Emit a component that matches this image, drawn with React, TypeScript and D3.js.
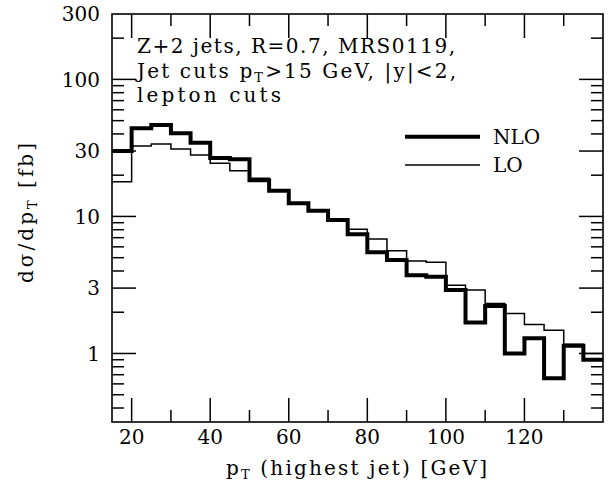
import React from "react";
import * as d3 from "d3";

// ---- data ----
const binLow = [15, 20, 25, 30, 35, 40, 45, 50, 55, 60, 65, 70, 75, 80, 85, 90, 95, 100, 105, 110, 115, 120, 125, 130, 135];
const binWidth = 5;
const nlo = [30, 44, 46.5, 40.5, 34.5, 26.7, 26.1, 18.4, 15.4, 12.5, 11.0, 9.4, 7.4, 5.47, 4.8, 3.73, 3.63, 2.9, 1.68, 2.22, 1.0, 1.29, 0.66, 1.14, 0.9];
const lo = [17.9, 32.7, 33.8, 31, 28.1, 24.4, 21.5, 19, 15.5, 12.6, 11.1, 9.6, 8.05, 6.85, 5.62, 4.72, 4.64, 3.15, 2.9, 2.32, 1.96, 1.63, 1.48, 1.17, 1.0];

const xMajorTicks = [20, 40, 60, 80, 100, 120];
const xMinorTicks = [30, 50, 70, 90, 110, 130];
const yMajorTicks = [1, 3, 10, 30, 100];
const yMinorTicks = [0.4, 0.5, 0.6, 0.7, 0.8, 0.9, 2, 4, 5, 6, 7, 8, 9, 20, 40, 50, 60, 70, 80, 90, 200];
const yLabels = [1, 3, 10, 30, 100, 300];

const annotation = ["Z+2 jets, R=0.7, MRS0119,", "Jet cuts p", "T", ">15 GeV, |y|<2,", "lepton cuts"];
const legendItems = ["NLO", "LO"];

const W = 611;
const H = 487;
const L = 112, R = 603, T = 14, B = 422;
const FONT = "'DejaVu Serif', serif";

export default function App() {
  const x = d3.scaleLinear().domain([15, 140]).range([L, R]);
  const y = d3.scaleLog().domain([Math.pow(10, -0.5), 300]).range([B, T]);

  const stepLine = (vals: number[]) => {
    const pts: [number, number][] = binLow.map((b, i) => [b, vals[i]]);
    pts.push([binLow[binLow.length - 1] + binWidth, vals[vals.length - 1]]);
    return d3
      .line<[number, number]>()
      .x((d) => x(d[0]))
      .y((d) => y(d[1]))
      .curve(d3.curveStepAfter)(pts) as string;
  };

  const major = 24;
  const minor = 12;
  const tickStroke = 1.5;

  return (
    <svg
      width={W}
      height={H}
      style={{ position: "absolute", left: 0, top: 0, background: "#fff" }}
      fontFamily={FONT}
    >
      <rect x={0} y={0} width={W} height={H} fill="#fff" />
      <defs>
        <clipPath id="plot">
          <rect x={L} y={T} width={R - L} height={B - T} />
        </clipPath>
      </defs>

      {/* histograms */}
      <g clipPath="url(#plot)" fill="none" strokeLinejoin="miter">
        <path d={stepLine(lo)} stroke="#000" strokeWidth={1.5} />
        <path d={stepLine(nlo)} stroke="#000" strokeWidth={4} />
      </g>

      {/* frame */}
      <rect x={L} y={T} width={R - L} height={B - T} fill="none" stroke="#000" strokeWidth={1.6} />

      {/* x ticks bottom & top */}
      <g stroke="#000" strokeWidth={tickStroke}>
        {xMajorTicks.map((t) => (
          <g key={"xM" + t}>
            <line x1={x(t)} x2={x(t)} y1={B} y2={B - major} />
            <line x1={x(t)} x2={x(t)} y1={T} y2={T + major} />
          </g>
        ))}
        {xMinorTicks.map((t) => (
          <g key={"xm" + t}>
            <line x1={x(t)} x2={x(t)} y1={B} y2={B - minor} />
            <line x1={x(t)} x2={x(t)} y1={T} y2={T + minor} />
          </g>
        ))}
        {yMajorTicks.map((t) => (
          <g key={"yM" + t}>
            <line x1={L} x2={L + major} y1={y(t)} y2={y(t)} />
            <line x1={R} x2={R - major} y1={y(t)} y2={y(t)} />
          </g>
        ))}
        {yMinorTicks.map((t) => (
          <g key={"ym" + t}>
            <line x1={L} x2={L + minor} y1={y(t)} y2={y(t)} />
            <line x1={R} x2={R - minor} y1={y(t)} y2={y(t)} />
          </g>
        ))}
      </g>

      {/* tick labels */}
      <g fontSize={20} fill="#000">
        {xMajorTicks.map((t) => (
          <text key={"xl" + t} x={x(t)} y={444} textAnchor="middle">
            {t}
          </text>
        ))}
        {yLabels.map((t) => (
          <text key={"yl" + t} x={100} y={y(t) + 7.3} textAnchor="end">
            {t}
          </text>
        ))}
      </g>

      {/* annotation */}
      <g fontSize={20} fill="#000">
        <text x={137} y={53} textLength={318} lengthAdjust="spacing">
          {annotation[0]}
        </text>
        <text x={137} y={77.5} textLength={319} lengthAdjust="spacing">
          {annotation[1]}
          <tspan fontSize={13} dy={4}>{annotation[2]}</tspan>
          <tspan dy={-4}>{annotation[3]}</tspan>
        </text>
        <text x={137} y={102} textLength={144} lengthAdjust="spacing">
          {annotation[4]}
        </text>
      </g>

      {/* legend */}
      <g>
        <line x1={405} x2={480} y1={136.7} y2={136.7} stroke="#000" strokeWidth={4} />
        <line x1={405} x2={480} y1={165} y2={165} stroke="#000" strokeWidth={1.5} />
        <text x={493} y={144} fontSize={20}>{legendItems[0]}</text>
        <text x={493} y={172.3} fontSize={20}>{legendItems[1]}</text>
      </g>

      {/* axis titles */}
      <text x={226} y={475} fontSize={20} textLength={261} lengthAdjust="spacing">
        p<tspan fontSize={13} dy={4}>T</tspan>
        <tspan dy={-4}> (highest jet) [GeV]</tspan>
      </text>
      <text
        transform="translate(33,213) rotate(-90)"
        textAnchor="middle"
        fontSize={20}
        textLength={140}
        lengthAdjust="spacing"
      >
        dσ/dp<tspan fontSize={13} dy={4}>T</tspan>
        <tspan dy={-4}> [fb]</tspan>
      </text>
    </svg>
  );
}
